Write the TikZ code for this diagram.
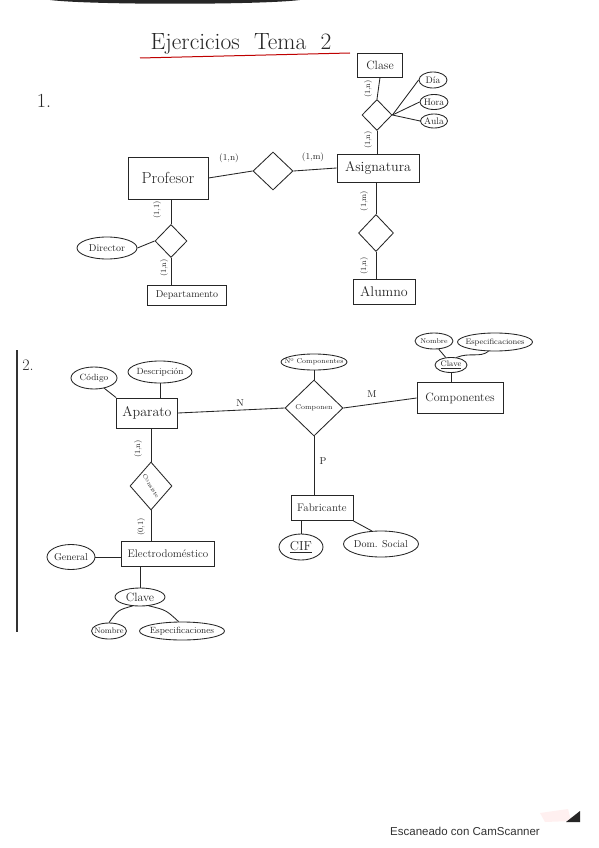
\documentclass[tikz,border=0pt]{standalone}
\usepackage{fontspec}
\newfontfamily\scanfont{Liberation Sans}
\usetikzlibrary{shapes.geometric}
\newcommand\attxt[1]{\makebox[0pt]{#1}}
\newcommand\fs[1]{\fontsize{#1}{#1}\selectfont}
\begin{document}
\begin{tikzpicture}[x=1pt,y=-1pt,
  ink/.style={draw=black!85, line width=0.85pt},
  ent/.style={ink, rectangle, inner sep=0pt, text=black!85},
  rel/.style={ink, diamond, inner sep=0pt, text=black!85},
  attr/.style={ink, ellipse, inner sep=0pt, text=black!85},
  card/.style={text=black!85, inner sep=0pt, font=\fs{8}},
  lnk/.style={ink}]
\useasboundingbox (0,0) rectangle (599,848);
\fill[white] (0,0) rectangle (599,848);

% scan artefacts
\fill[black!85] (50,0) -- (300,0) .. controls (260,5) and (90,5) .. (50,0) -- cycle;
\draw[black!80, line width=1.1pt] (17,350) -- (17,632);

% title
\node[text=black!85, font=\fs{23.5}] (title) at (241,44) {Ejercicios\ \ Tema\ \ 2};
\draw[red!75!black, line width=1pt] (140,58) -- (350,53);
\node[text=black!85, font=\fs{20}] (one) at (44,101) {1.};
\node[text=black!85, font=\fs{16}] (two) at (28,365) {2.};

% ---------- Exercise 1 ----------
\node[ent, minimum width=45, minimum height=24, font=\fs{12}] (clase) at (380,65) {Clase};
\node[rel, minimum width=30, minimum height=31] (rclase) at (377,115) {};
\node[attr, minimum width=28, minimum height=16, font=\fs{9.5}] (dia) at (433,80) {\attxt{Día}};
\node[attr, minimum width=28, minimum height=15, font=\fs{9.5}] (hora) at (434,102) {\attxt{Hora}};
\node[attr, minimum width=27, minimum height=14, font=\fs{9.5}] (aula) at (434,121) {\attxt{Aula}};
\node[ent, minimum width=82, minimum height=28, font=\fs{14}] (asig) at (378,168) {Asignatura};
\node[ent, minimum width=80, minimum height=42, font=\fs{16}] (prof) at (168,178) {Profesor};
\node[rel, minimum width=40, minimum height=38] (rimp) at (273,171) {};
\node[rel, minimum width=32, minimum height=33] (rdir) at (171,241) {};
\node[attr, minimum width=60, minimum height=22, font=\fs{10}] (director) at (107,248) {\attxt{Director}};
\node[ent, minimum width=79, minimum height=20, font=\fs{10}] (dep) at (187,295) {Departamento};
\node[rel, minimum width=35, minimum height=37] (ralum) at (376,233) {};
\node[ent, minimum width=62, minimum height=25, font=\fs{14}] (alumno) at (384,292) {Alumno};

\draw[lnk] (clase.south) -- (rclase.north);
\draw[lnk] (rclase.south) -- (rclase.south |- asig.north);
\draw[lnk] (rclase.east) -- (dia.west);
\draw[lnk] (rclase.east) -- (hora.west);
\draw[lnk] (rclase.east) -- (aula.west);
\draw[lnk] (prof.east) -- (rimp.west);
\draw[lnk] (rimp.east) -- (asig.west);
\draw[lnk] (rdir.north |- prof.south) -- (rdir.north);
\draw[lnk] (director.east) -- (rdir.west);
\draw[lnk] (rdir.south) -- (rdir.south |- dep.north);
\draw[lnk] (ralum.north |- asig.south) -- (ralum.north);
\draw[lnk] (ralum.south) -- (ralum.south |- alumno.north);

\node[card, rotate=90] (c1) at (368,89) {(1,n)};
\node[card, rotate=90] (c2) at (368,140) {(1,n)};
\node[card, font=\fs{9}] (c3) at (229,158) {(1,n)};
\node[card, font=\fs{9}] (c4) at (313,157) {(1,m)};
\node[card, rotate=90] (c5) at (157,210) {(1,1)};
\node[card, rotate=90] (c6) at (164,268) {(1,n)};
\node[card, rotate=90] (c7) at (364,201) {(1,m)};
\node[card, rotate=90] (c8) at (364,266) {(1,n)};

% ---------- Exercise 2 ----------
\node[ent, minimum width=61, minimum height=30, font=\fs{14}] (aparato) at (147,413) {Aparato};
\node[attr, minimum width=46, minimum height=22, font=\fs{9}] (codigo) at (94,378) {\attxt{Código}};
\node[attr, minimum width=64, minimum height=22, font=\fs{9}] (descr) at (160,372) {\attxt{Descripción}};
\node[rel, minimum width=58, minimum height=56, font=\fs{7}] (rcomp) at (314,408) {\attxt{Componen}};
\node[attr, minimum width=66, minimum height=16, font=\fs{7}] (ncomp) at (314,362) {\attxt{Nº Componentes}};
\node[ent, minimum width=86, minimum height=31, font=\fs{12}] (comps) at (460,398) {Componentes};
\node[attr, minimum width=32, minimum height=15, font=\fs{8}] (clave1) at (451,365) {\attxt{\underline{Clave}}};
\node[attr, minimum width=38, minimum height=16, font=\fs{7}] (nombre1) at (434,341) {\attxt{Nombre}};
\node[attr, minimum width=75, minimum height=18, font=\fs{8}] (espec1) at (495,342) {\attxt{Especificaciones}};
\node[ent, minimum width=62, minimum height=25, font=\fs{11}] (fab) at (322,508) {Fabricante};
\node[attr, minimum width=44, minimum height=26, font=\fs{13}] (cif) at (301,547) {\attxt{\underline{CIF}}};
\node[attr, minimum width=75, minimum height=26, font=\fs{10}] (dom) at (381,544) {\attxt{Dom. Social}};
\node[rel, minimum width=42, minimum height=48] (rcons) at (151,486) {};
\node[text=black!85, font=\fs{6}, rotate=-60, inner sep=0pt] (tcons) at (rcons) {Consiste};
\node[ent, minimum width=93, minimum height=25, font=\fs{11}] (elec) at (168,554) {Electrodoméstico};
\node[attr, minimum width=48, minimum height=25, font=\fs{10}] (general) at (71,557) {\attxt{General}};
\node[attr, minimum width=50, minimum height=18, font=\fs{12}] (clave2) at (140,597) {\attxt{Clave}};
\node[attr, minimum width=35, minimum height=16, font=\fs{8}] (nombre2) at (109,631) {\attxt{Nombre}};
\node[attr, minimum width=85, minimum height=18, font=\fs{9}] (espec2) at (182,631) {\attxt{Especificaciones}};

\draw[lnk] (codigo.-45) -- (aparato.north west);
\draw[lnk] (descr.south) -- (descr.south |- aparato.north);
\draw[lnk] (aparato.east) -- (rcomp.west);
\draw[lnk] (rcomp.east) -- (comps.west);
\draw[lnk] (ncomp.south) -- (rcomp.north);
\draw[lnk] (clave1.south) -- (clave1.south |- comps.north);
\draw[lnk] (nombre1.-60) -- (clave1.125);
\draw[lnk] (espec1.235) .. controls (480,358) and (470,352) .. (clave1.55);
\draw[lnk] (rcomp.south) -- (rcomp.south |- fab.north);
\draw[lnk] (cif.north |- fab.south) -- (cif.north);
\draw[lnk] (fab.south east) -- (dom.125);
\draw[lnk] (rcons.north |- aparato.south) -- (rcons.north);
\draw[lnk] (rcons.south) -- (rcons.south |- elec.north);
\draw[lnk] (general.east) -- (general.east -| elec.west);
\draw[lnk] (clave2.north |- elec.south) -- (clave2.north);
\draw[lnk] (clave2.-130) .. controls (118,610) .. (nombre2.north);
\draw[lnk] (clave2.-45) .. controls (166,610) .. (espec2.110);

\node[card, font=\fs{10}] (cn) at (240,403) {N};
\node[card, font=\fs{10}] (cm) at (372,394) {M};
\node[card, font=\fs{10}] (cp) at (323,461) {P};
\node[card, rotate=90] (c9) at (138,449) {(1,n)};
\node[card, rotate=90] (c10) at (141,527) {(0,1)};

% scanner watermark
\fill[red!6] (540,813) -- (568,809) -- (571,821) -- (545,822) -- cycle;
\fill[black!85] (566,822) -- (580,811) -- (580,822) -- cycle;
\node[font=\scanfont\fs{11.5}, text=black!80, anchor=west, inner sep=0pt] (scan) at (390,831) {Escaneado con CamScanner};
\end{tikzpicture}
\end{document}
